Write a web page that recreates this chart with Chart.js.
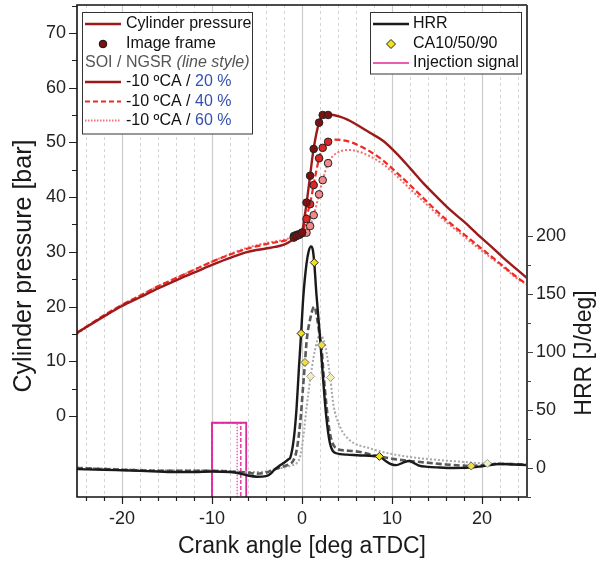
<!DOCTYPE html>
<html>
<head>
<meta charset="utf-8">
<script src="https://cdn.jsdelivr.net/npm/chart.js@4.4.0/dist/chart.umd.min.js"></script>
<style>
  html, body { margin: 0; padding: 0; background: #fff; }
  #wrap { width: 608px; height: 561px; }
</style>
</head>
<body>
<div id="wrap"><canvas id="chart" width="608" height="561"></canvas></div>
<script>
// Cylinder pressure [bar] vs crank angle, SOI -10 deg, NGSR 20/40/60 %
const pAngle20 = [-25, -22, -20, -18, -16, -14, -12, -10, -8, -6, -4, -3, -2, -1, -0.5, 0, 0.3, 0.6, 0.9, 1.2, 1.5, 1.9, 2.3, 2.9, 3.5, 4.2, 5, 6, 7.5, 9, 10.5, 12, 13.5, 15, 16.5, 18, 19.5, 21, 22.5, 24, 25];
const pValue20 = [15.2, 18.2, 20.1, 21.7, 23.3, 24.8, 26.2, 27.6, 28.9, 30.0, 30.6, 30.9, 31.3, 32.2, 32.8, 33.6, 36.5, 40, 43.9, 47.8, 50.8, 53.6, 54.9, 55.1, 55.0, 54.7, 54.2, 53.3, 51.8, 50.3, 48, 45.3, 42.5, 40, 37.6, 35.5, 33.2, 31, 28.7, 26.6, 25.2];

const pAngle40 = [-25, -22, -20, -18, -16, -14, -12, -10, -8, -6, -4, -3, -2, -1, -0.5, 0, 0.3, 0.6, 0.9, 1.3, 1.9, 2.3, 2.9, 3.5, 4.5, 5.5, 7.5, 9, 10.5, 12, 13.5, 15, 16.5, 18, 19.5, 21, 22.5, 24, 25];
const pValue40 = [15.2, 18.4, 20.3, 22.0, 23.7, 25.2, 26.7, 28.2, 29.5, 30.6, 31.4, 31.7, 32.0, 32.6, 33.0, 33.4, 34.8, 37, 38.8, 42.3, 47.1, 49, 50.2, 50.5, 50.4, 50, 48.4, 46.7, 44.5, 42.2, 39.8, 37.4, 35.2, 33.2, 31.2, 29.2, 27.2, 25.2, 24.1];

const pAngle60 = [-25, -22, -20, -18, -16, -14, -12, -10, -8, -6, -4, -3, -2, -1, -0.5, 0, 0.5, 0.9, 1.3, 1.9, 2.3, 2.9, 3.5, 4.3, 5.3, 6.3, 7.5, 9, 10.5, 12, 13.5, 15, 16.5, 18, 19.5, 21, 22.5, 24, 25];
const pValue60 = [15.0, 18.3, 20.3, 22.0, 23.7, 25.2, 26.7, 28.2, 29.6, 30.8, 31.6, 31.9, 32.2, 32.7, 33.0, 33.3, 33.5, 34.7, 36.7, 40.5, 43.1, 46.2, 47.6, 48.4, 48.6, 48.3, 47.5, 46, 43.9, 41.5, 39.2, 36.9, 34.8, 32.8, 30.8, 28.9, 27.0, 25, 24];

// Image frames (camera) along each pressure trace
const frameAngle = [-0.9, -0.6, -0.3, 0.0, 0.5, 0.9, 1.3, 1.9, 2.3, 2.9];
const frameP20 = [32.6, 32.9, 33.1, 33.5, 39, 43.9, 48.8, 53.6, 55, 55];
const frameP40 = [32.7, 33.0, 33.2, 33.5, 36, 38.7, 42.2, 47.1, 49, 50.1];
const frameP60 = [32.9, 33.1, 33.2, 33.4, 33.5, 34.7, 36.7, 40.5, 43.1, 46.2];

// Heat release rate [J/deg]
const hAngle20 = [-25, -22, -20, -18, -16, -14, -12, -10, -8, -7, -6, -5, -4, -3.5, -3, -2.5, -2, -1.5, -1.3, -1, -0.8, -0.6, -0.35, -0.1, 0.15, 0.5, 0.75, 1.0, 1.2, 1.36, 1.6, 2.0, 2.35, 2.7, 3.1, 3.8, 5, 6.5, 8.6, 9.3, 10, 10.5, 11.2, 11.9, 12.5, 13, 14, 15, 16.7, 18.6, 20, 22, 23.5, 25];
const hValue20 = [-1, -1.5, -2, -2.5, -3, -3.5, -3.5, -3, -3.5, -4.5, -6.5, -7.5, -7, -5, -1, 2, 4.5, 7.5, 9, 20, 33, 52, 85, 116, 148, 176, 187, 191, 188, 177, 150, 113, 76, 44, 21.5, 12.7, 11.5, 10.8, 9.8, 6, 3, 2.5, 4.5, 6, 4, 2, 1, 0.5, 0, 0.3, 1.5, 3.5, 3, 2.5];

const hAngle40 = [-25, -20, -15, -10, -8, -6, -5, -4, -3, -2, -1.5, -1, -0.6, -0.2, 0.15, 0.33, 0.52, 0.9, 1.36, 1.7, 2.0, 2.17, 2.35, 2.73, 3.1, 3.8, 5, 6.3, 8, 10, 12, 14, 16, 18, 18.8, 20, 22, 25];
const hValue40 = [0, -1.5, -2.5, -2.5, -3, -4, -5, -4, -1, 1.5, 3, 6, 15, 39, 73, 91, 110, 128, 139, 128, 112, 104, 85, 53, 30, 17, 15, 14, 11, 8, 6, 4.5, 3, 2, 1.7, 2.5, 3.5, 3];

const hAngle60 = [-25, -20, -15, -10, -7, -5, -4, -3, -2, -1, -0.5, -0.2, 0.15, 0.52, 0.96, 1.4, 2.0, 2.5, 2.73, 3.17, 3.46, 4.2, 5.3, 7.5, 10, 12.5, 15, 17.5, 20.6, 22, 25];
const hValue60 = [0.5, -1, -2, -2, -3, -3.5, -3, -1, 0.5, 2.5, 5, 10, 27, 53, 79, 100, 115, 108, 99, 76, 56, 36, 24, 17, 12, 9, 7, 5.5, 4, 4, 3];

// CA10 / CA50 / CA90 markers
const caAngle20 = [-0.1, 1.36, 8.6];
const caValue20 = [116, 177, 10];
const caAngle40 = [0.33, 2.17, 18.8];
const caValue40 = [91, 106, 1.7];
const caAngle60 = [0.96, 3.17, 20.6];
const caValue60 = [79, 78, 4];

// Injection signal (high level / low level, start / end of pulse)
const injHigh = 39;
const injLow = -60;
const injStart = [-10, -10, -10];
const injEnd = [-6.2, -6.8, -7.2];

// Axis ticks
const xTickVals = [-20, -10, 0, 10, 20];
const yTickVals = [0, 10, 20, 30, 40, 50, 60, 70];
const y1TickVals = [0, 50, 100, 150, 200];
const xGridVals = [-24, -22, -20, -18, -16, -14, -12, -10, -8, -6, -4, -2, 0, 2, 4, 6, 8, 10, 12, 14, 16, 18, 20, 22, 24];
const yMinorVals = [0, 5, 10, 15, 20, 25, 30, 35, 40, 45, 50, 55, 60, 65, 70, 75];
const y1MinorVals = [-25, 0, 25, 50, 75, 100, 125, 150, 175, 200];

const FONT = "'Liberation Sans', Arial, Helvetica, sans-serif";

const pts = (xs, ys) => xs.map((x, i) => ({ x: x, y: ys[i] }));
const pulse = i => [
    { x: -25, y: injLow }, { x: injStart[i], y: injLow }, { x: injStart[i], y: injHigh },
    { x: injEnd[i], y: injHigh }, { x: injEnd[i], y: injLow }, { x: 25, y: injLow }
];

const C_P20 = '#9c1a1a', C_P40 = '#ee2a22', C_P60 = '#f37070';

const gridPlugin = {
    id: 'gridLines',
    beforeDatasetsDraw(chart) {
        const ctx = chart.ctx, a = chart.chartArea, xs = chart.scales.x;
        ctx.save();
        xGridVals.forEach(v => {
            const px = Math.round(xs.getPixelForValue(v)) + 0.5;
            const major = v % 10 === 0;
            ctx.setLineDash(major ? [] : [3, 3]);
            ctx.strokeStyle = major ? '#cccccc' : '#d4d4d4';
            ctx.lineWidth = major ? 1.2 : 1;
            ctx.beginPath();
            ctx.moveTo(px, a.top);
            ctx.lineTo(px, a.bottom);
            ctx.stroke();
        });
        ctx.restore();
    }
};

function drawLine(ctx, x0, x1, y, color, width, dash) {
    ctx.save();
    ctx.strokeStyle = color;
    ctx.lineWidth = width;
    ctx.setLineDash(dash);
    ctx.beginPath();
    ctx.moveTo(x0, y);
    ctx.lineTo(x1, y);
    ctx.stroke();
    ctx.restore();
}

const framePlugin = {
    id: 'frameAndLegend',
    afterDraw(chart) {
        const ctx = chart.ctx, a = chart.chartArea;
        const xs = chart.scales.x, ys = chart.scales.y, y1 = chart.scales.y1;
        ctx.save();
        // ticks
        ctx.strokeStyle = '#222';
        ctx.lineWidth = 1.2;
        ctx.beginPath();
        xGridVals.forEach(v => {
            const px = Math.round(xs.getPixelForValue(v)) + 0.5;
            ctx.moveTo(px, a.bottom);
            ctx.lineTo(px, a.bottom + (v % 10 === 0 ? 7 : 4));
        });
        yMinorVals.forEach(v => {
            const py = Math.round(ys.getPixelForValue(v)) + 0.5;
            ctx.moveTo(a.left, py);
            ctx.lineTo(a.left - (v % 10 === 0 ? 8 : 5), py);
        });
        ctx.stroke();
        ctx.strokeStyle = '#444';
        ctx.beginPath();
        y1MinorVals.forEach(v => {
            const py = Math.round(y1.getPixelForValue(v)) + 0.5;
            ctx.moveTo(a.right, py);
            ctx.lineTo(a.right + (v % 50 === 0 ? 6 : 4), py);
        });
        ctx.stroke();

        // plot frame
        ctx.strokeStyle = '#111';
        ctx.lineWidth = 1.6;
        ctx.beginPath();
        ctx.moveTo(a.right, a.top);
        ctx.lineTo(a.left, a.top);
        ctx.lineTo(a.left, a.bottom);
        ctx.lineTo(a.right, a.bottom);
        ctx.stroke();
        ctx.strokeStyle = '#444';
        ctx.lineWidth = 2;
        ctx.beginPath();
        ctx.moveTo(a.right, a.top);
        ctx.lineTo(a.right, a.bottom + 1);
        ctx.stroke();

        // axis titles
        ctx.fillStyle = '#1a1a1a';
        ctx.font = '23px ' + FONT;
        ctx.textAlign = 'center';
        ctx.textBaseline = 'middle';
        ctx.fillText('Crank angle [deg aTDC]', (a.left + a.right) / 2, 547);
        ctx.save();
        ctx.translate(585, 353);
        ctx.rotate(-Math.PI / 2);
        ctx.fillText('HRR [J/deg]', 0, 0);
        ctx.restore();
        ctx.save();
        ctx.font = '25px ' + FONT;
        ctx.translate(24, 266);
        ctx.rotate(-Math.PI / 2);
        ctx.fillText('Cylinder pressure [bar]', 0, 0);
        ctx.restore();

        // legend 1
        ctx.fillStyle = '#fff';
        ctx.fillRect(82.5, 12.5, 170, 121.5);
        ctx.strokeStyle = '#333';
        ctx.lineWidth = 1;
        ctx.strokeRect(82.5, 12.5, 170, 121.5);
        ctx.font = '16px ' + FONT;
        ctx.textAlign = 'left';
        ctx.textBaseline = 'middle';
        const tx = 126;
        drawLine(ctx, 85, 121, 24, C_P20, 2.4, []);
        ctx.fillStyle = '#111';
        ctx.fillText('Cylinder pressure', tx, 24);
        ctx.beginPath();
        ctx.arc(103, 44, 3.8, 0, Math.PI * 2);
        ctx.fillStyle = '#7a1212';
        ctx.fill();
        ctx.strokeStyle = '#111';
        ctx.lineWidth = 1;
        ctx.stroke();
        ctx.fillStyle = '#111';
        ctx.fillText('Image frame', tx, 44);
        ctx.fillStyle = '#555';
        ctx.fillText('SOI / NGSR ', 85, 63);
        const w0 = ctx.measureText('SOI / NGSR ').width;
        ctx.font = 'italic 16px ' + FONT;
        ctx.fillText('(line style)', 85 + w0, 63);
        ctx.font = '16px ' + FONT;
        const rows = [
            { y: 82, color: C_P20, w: 2.4, dash: [], pct: '20 %' },
            { y: 101.5, color: C_P40, w: 2.2, dash: [5, 3], pct: '40 %' },
            { y: 120.5, color: C_P60, w: 2, dash: [1.5, 1.5], pct: '60 %' }
        ];
        rows.forEach(r => {
            drawLine(ctx, 85, 121, r.y, r.color, r.w, r.dash);
            ctx.fillStyle = '#111';
            ctx.fillText('-10 \u00baCA / ', tx, r.y);
            const w = ctx.measureText('-10 \u00baCA / ').width;
            ctx.fillStyle = '#3550b0';
            ctx.fillText(r.pct, tx + w, r.y);
        });

        // legend 2
        ctx.fillStyle = '#fff';
        ctx.fillRect(370.5, 12.5, 151, 61.5);
        ctx.strokeStyle = '#333';
        ctx.lineWidth = 1;
        ctx.strokeRect(370.5, 12.5, 151, 61.5);
        drawLine(ctx, 373, 409, 24, '#1a1a1a', 2.4, []);
        ctx.fillStyle = '#111';
        ctx.fillText('HRR', 413, 24);
        ctx.beginPath();
        ctx.moveTo(391, 39.5);
        ctx.lineTo(395.5, 44);
        ctx.lineTo(391, 48.5);
        ctx.lineTo(386.5, 44);
        ctx.closePath();
        ctx.fillStyle = '#f2e21c';
        ctx.fill();
        ctx.strokeStyle = '#222';
        ctx.stroke();
        ctx.fillStyle = '#111';
        ctx.fillText('CA10/50/90', 413, 44);
        drawLine(ctx, 373, 409, 63, '#e0289c', 1.6, []);
        ctx.fillStyle = '#111';
        ctx.fillText('Injection signal', 413, 63);
        ctx.restore();
    }
};

const lineDs = (data, axis, color, width, dash, order) => ({
    data: data, yAxisID: axis, borderColor: color, borderWidth: width, borderDash: dash,
    pointRadius: 0, fill: false, cubicInterpolationMode: 'monotone', order: order
});
const dotDs = (data, axis, fill, border, radius, style, order) => ({
    data: data, yAxisID: axis, showLine: false, pointRadius: radius, pointStyle: style,
    pointBackgroundColor: fill, pointBorderColor: border, pointBorderWidth: 1, order: order
});
const injDs = (i, dash, color, width) => ({
    data: pulse(i), yAxisID: 'y1', borderColor: color, borderWidth: width, borderDash: dash,
    pointRadius: 0, fill: false, tension: 0, order: 20 + i
});

const tickFont = { family: FONT, size: 18 };

new Chart(document.getElementById('chart'), {
    type: 'line',
    data: {
        datasets: [
            injDs(0, [], '#e0289c', 1.8),
            injDs(1, [4, 2], '#e34aa8', 1.6),
            injDs(2, [1.5, 1.5], '#ec6fbb', 1.6),
            lineDs(pts(hAngle60, hValue60), 'y1', '#a8a8a8', 2, [2, 2], 15),
            lineDs(pts(hAngle40, hValue40), 'y1', '#5a5a5a', 2.6, [6, 3], 14),
            lineDs(pts(hAngle20, hValue20), 'y1', '#1a1a1a', 2.4, [], 13),
            lineDs(pts(pAngle60, pValue60), 'y', C_P60, 2, [2, 2], 12),
            lineDs(pts(pAngle40, pValue40), 'y', C_P40, 2.2, [6, 3], 11),
            lineDs(pts(pAngle20, pValue20), 'y', C_P20, 2.4, [], 10),
            dotDs(pts(frameAngle, frameP60), 'y', '#f08a8a', '#222', 3.8, 'circle', 6),
            dotDs(pts(frameAngle, frameP40), 'y', '#e02525', '#222', 3.8, 'circle', 5),
            dotDs(pts(frameAngle, frameP20), 'y', '#7a1212', '#222', 3.8, 'circle', 4),
            dotDs(pts(caAngle60, caValue60), 'y1', '#f4efb4', '#a0a0a0', 4, 'rectRot', 3),
            dotDs(pts(caAngle40, caValue40), 'y1', '#efe040', '#666', 4, 'rectRot', 2),
            dotDs(pts(caAngle20, caValue20), 'y1', '#f2e21c', '#222', 4, 'rectRot', 1)
        ]
    },
    options: {
        responsive: false,
        animation: false,
        layout: { padding: { top: 5, left: 0, right: 0, bottom: 0 } },
        plugins: { legend: { display: false }, tooltip: { enabled: false } },
        scales: {
            x: {
                type: 'linear', min: -25, max: 25,
                afterFit: s => { s.height = 64; s.paddingLeft = 0; s.paddingRight = 0; },
                afterBuildTicks: s => { s.ticks = xTickVals.map(v => ({ value: v })); },
                ticks: { font: tickFont, color: '#222', padding: 11, maxRotation: 0, autoSkip: false },
                grid: { display: false, drawTicks: false },
                border: { display: false }
            },
            y: {
                position: 'left', min: -14.8, max: 75.1,
                afterFit: s => { s.width = 77; s.paddingTop = 0; s.paddingBottom = 0; },
                afterBuildTicks: s => { s.ticks = yTickVals.map(v => ({ value: v })); },
                ticks: { font: tickFont, color: '#222', padding: 11 },
                grid: { display: false, drawTicks: false },
                border: { display: false }
            },
            y1: {
                position: 'right', min: -25, max: 399,
                afterFit: s => { s.width = 81; s.paddingTop = 0; s.paddingBottom = 0; },
                afterBuildTicks: s => { s.ticks = y1TickVals.map(v => ({ value: v })); },
                ticks: { font: tickFont, color: '#222', padding: 9 },
                grid: { display: false, drawTicks: false },
                border: { display: false }
            }
        }
    },
    plugins: [gridPlugin, framePlugin]
});
</script>
</body>
</html>
